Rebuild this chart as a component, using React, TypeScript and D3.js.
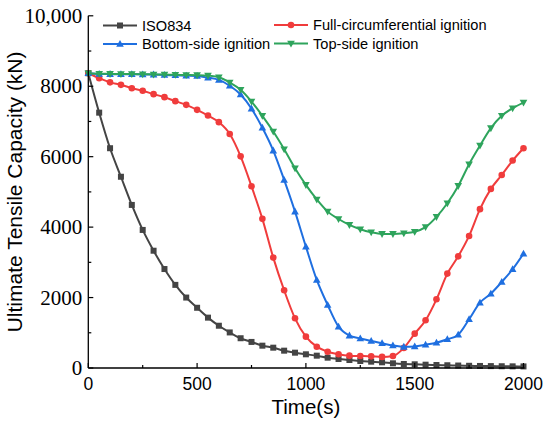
import React from "react";
import * as d3 from "d3";

const times: number[] = d3.range(0, 2001, 50);

const iso834: number[] = [8370, 7250, 6240, 5430, 4630, 3920, 3330, 2810, 2360, 2000, 1710, 1430, 1200, 1010, 845, 740, 634, 577, 492, 435, 389, 350, 293, 256, 227, 199, 180, 162, 133, 114, 105, 94, 85, 78, 70, 63, 58, 54, 50, 47, 45];
const fullCirc: number[] = [8370, 8230, 8110, 8040, 7945, 7870, 7775, 7690, 7576, 7472, 7330, 7168, 6980, 6645, 6010, 5160, 4235, 3134, 2207, 1411, 890, 605, 463, 389, 350, 341, 331, 315, 340, 570, 975, 1355, 1950, 2680, 3170, 3750, 4510, 5085, 5480, 5890, 6240];
const bottomSide: number[] = [8370, 8350, 8345, 8340, 8340, 8335, 8330, 8320, 8310, 8300, 8290, 8245, 8180, 8015, 7765, 7365, 6820, 6173, 5340, 4440, 3446, 2500, 1790, 1173, 920, 840, 767, 702, 640, 600, 610, 660, 719, 815, 946, 1383, 1855, 2110, 2443, 2804, 3247];
const topSide: number[] = [8370, 8355, 8350, 8345, 8345, 8340, 8335, 8330, 8325, 8320, 8315, 8300, 8255, 8105, 7900, 7565, 7160, 6713, 6213, 5673, 5199, 4785, 4440, 4230, 4063, 3940, 3855, 3807, 3807, 3826, 3870, 4000, 4290, 4679, 5170, 5787, 6315, 6810, 7159, 7377, 7537];

const xTicks: number[] = [0, 500, 1000, 1500, 2000];
const xMinor: number[] = [250, 750, 1250, 1750];
const yTicks: number[] = [0, 2000, 4000, 6000, 8000, 10000];
const yTickLabels: string[] = ["0", "2000", "4000", "6000", "8000", "10,000"];
const yMinor: number[] = [1000, 3000, 5000, 7000, 9000];

type Series = { name: string; values: number[]; color: string; marker: string };
const series: Series[] = [
  { name: "ISO834", values: iso834, color: "#444444", marker: "square" },
  { name: "Full-circumferential ignition", values: fullCirc, color: "#f03c3c", marker: "circle" },
  { name: "Bottom-side ignition", values: bottomSide, color: "#1f6fe0", marker: "triangleUp" },
  { name: "Top-side ignition", values: topSide, color: "#2ea45c", marker: "triangleDown" },
];

const W = 550;
const H = 424;
const left = 88.3;
const right = 523.5;
const top = 15.8;
const bottom = 368;

function Marker({ type, x, y, color }: { type: string; x: number; y: number; color: string }) {
  if (type === "square") return <rect x={x - 3} y={y - 3} width={6} height={6} fill={color} />;
  if (type === "circle") return <circle cx={x} cy={y} r={3.3} fill={color} />;
  if (type === "triangleUp")
    return <path d={`M${x},${y - 4} L${x + 3.8},${y + 2.8} L${x - 3.8},${y + 2.8} Z`} fill={color} />;
  return <path d={`M${x},${y + 4} L${x + 3.8},${y - 2.8} L${x - 3.8},${y - 2.8} Z`} fill={color} />;
}

export default function App() {
  const x = d3.scaleLinear().domain([0, 2000]).range([left, right]);
  const y = d3.scaleLinear().domain([0, 10000]).range([bottom, top]);
  const line = d3
    .line<number>()
    .x((_, i) => x(times[i]))
    .y((d) => y(d))
    .curve(d3.curveMonotoneX);

  const sans = "'Liberation Sans', Arial, sans-serif";
  const serif = "'Liberation Serif', 'Times New Roman', serif";

  const legendPos = [
    { lx: 103, ly: 25.5 },
    { lx: 274, ly: 25 },
    { lx: 103, ly: 44 },
    { lx: 274, ly: 43.5 },
  ];

  return (
    <svg width={W} height={H} style={{ position: "fixed", left: 0, top: 0, background: "#fff" }}>
      {/* series */}
      {series.map((s) => (
        <g key={s.name}>
          <path d={line(s.values) || ""} fill="none" stroke={s.color} strokeWidth={2} />
          {s.values.map((v, i) => (
            <Marker key={i} type={s.marker} x={x(times[i])} y={y(v)} color={s.color} />
          ))}
        </g>
      ))}

      {/* axes */}
      <line x1={left} x2={left} y1={top} y2={bottom} stroke="#000" strokeWidth={1.3} />
      <line x1={left} x2={right + 1} y1={bottom} y2={bottom} stroke="#000" strokeWidth={1.3} />
      {xTicks.map((t) => (
        <g key={"xt" + t}>
          <line x1={x(t)} x2={x(t)} y1={bottom} y2={bottom - 5} stroke="#000" strokeWidth={1.2} />
          <text x={x(t)} y={390} textAnchor="middle" fontFamily={sans} fontSize={17.5} fill="#000">
            {t}
          </text>
        </g>
      ))}
      {xMinor.map((t) => (
        <line key={"xm" + t} x1={x(t)} x2={x(t)} y1={bottom} y2={bottom - 3} stroke="#000" strokeWidth={1.2} />
      ))}
      {yTicks.map((t, i) => (
        <g key={"yt" + t}>
          <line x1={left} x2={left + 5} y1={y(t)} y2={y(t)} stroke="#000" strokeWidth={1.2} />
          <text x={left - 6} y={y(t) + 7} textAnchor="end" fontFamily={serif} fontSize={21} fill="#000">
            {yTickLabels[i]}
          </text>
        </g>
      ))}
      {yMinor.map((t) => (
        <line key={"ym" + t} x1={left} x2={left + 3} y1={y(t)} y2={y(t)} stroke="#000" strokeWidth={1.2} />
      ))}

      {/* axis titles */}
      <text x={(left + right) / 2} y={414} textAnchor="middle" fontFamily={sans} fontSize={20.5} fill="#000">
        Time(s)
      </text>
      <text
        transform={`translate(22, ${(top + bottom) / 2}) rotate(-90)`}
        textAnchor="middle"
        fontFamily={sans}
        fontSize={21}
        fill="#000"
      >
        Ultimate Tensile Capacity (kN)
      </text>

      {/* legend */}
      {series.map((s, i) => {
        const p = legendPos[i];
        return (
          <g key={"lg" + s.name}>
            <line x1={p.lx} x2={p.lx + 34} y1={p.ly} y2={p.ly} stroke={s.color} strokeWidth={2} />
            <Marker type={s.marker} x={p.lx + 17} y={p.ly} color={s.color} />
            <text x={p.lx + 39} y={p.ly + 5.3} fontFamily={sans} fontSize={14.6} fill="#000">
              {s.name}
            </text>
          </g>
        );
      })}
    </svg>
  );
}
